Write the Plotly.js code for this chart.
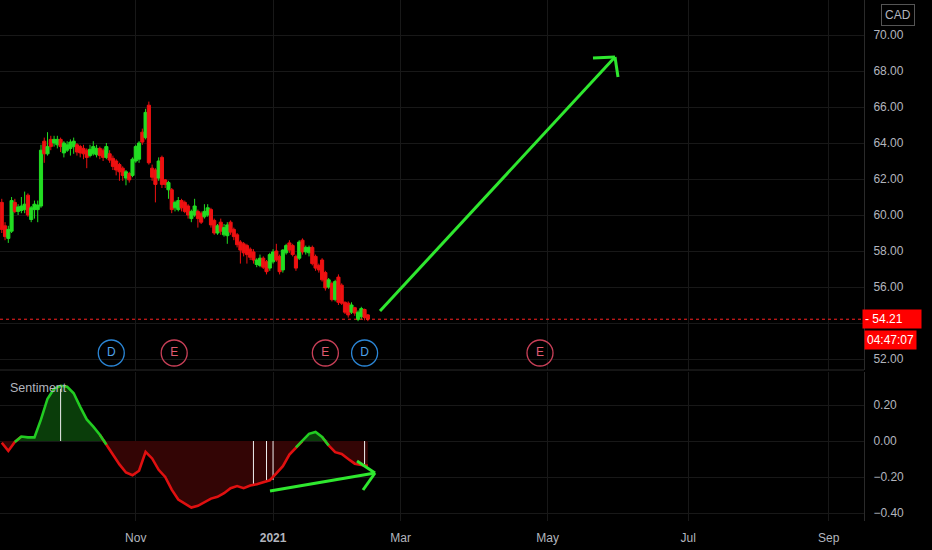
<!DOCTYPE html>
<html><head><meta charset="utf-8">
<script src="https://cdn.plot.ly/plotly-3.0.1.min.js"></script>
<style>html,body{margin:0;padding:0;background:#000;}#chart{width:932px;height:550px;}</style>
</head><body><div id="chart"></div>
<script>
// ---- data ----
const startDate = '2020-09-02';
const holidays = ['2020-09-07','2020-10-12','2020-12-25','2020-12-28','2021-01-01','2021-02-15','2021-07-01'];

const opens = [
 60.7,59.4,58.7,59.1,60.7,60.2,60.25,60.3,61.1,59.75,
 60.3,60.3,60.5,64.1,63.4,64.2,64.0,63.9,64.2,63.45,
 63.6,63.7,63.8,63.9,63.8,63.7,63.6,63.3,63.4,63.35,
 63.7,63.6,63.2,63.4,63.15,63.0,62.8,62.6,62.05,62.3,
 62.2,63.0,63.1,64.6,64.3,66.1,62.6,62.5,62.05,63.2,
 61.95,61.4,61.4,60.4,60.3,60.8,60.7,60.5,59.8,60.0,
 60.2,60.1,59.9,60.0,60.3,59.7,59.0,59.6,58.9,58.85,
 59.6,59.2,58.9,58.5,58.4,58.3,58.1,57.95,57.25,57.2,
 57.6,57.4,57.05,57.4,58.0,57.7,56.95,57.9,58.45,58.3,
 57.7,57.6,58.6,57.95,57.9,58.2,57.7,57.2,57.5,56.8,
 56.0,56.2,55.3,56.55,56.1,55.15,55.1,54.6,54.85,54.2,54.35,54.75,54.45];
const highs = [
 60.9,59.6,59.4,61.0,60.9,60.6,61.0,61.3,61.2,60.5,
 60.8,60.8,63.9,64.3,64.6,64.4,64.4,64.4,64.3,64.1,
 64.1,64.2,64.3,64.0,63.9,63.9,63.7,63.9,64.1,63.9,
 63.8,63.7,64.0,63.6,63.3,63.1,62.9,62.7,62.5,62.4,
 63.2,63.9,64.1,64.8,65.9,66.3,62.8,62.6,63.2,63.3,
 62.0,61.9,61.5,60.8,61.0,60.9,60.8,60.6,60.3,60.9,
 60.3,60.2,60.6,60.6,60.4,59.8,59.5,59.8,59.5,59.6,
 59.7,59.3,59.0,58.6,58.5,58.4,58.2,58.1,57.6,57.8,
 57.7,57.5,57.9,58.1,58.4,57.8,58.1,58.4,58.6,58.4,
 57.8,58.6,58.7,58.3,58.3,58.3,57.8,57.3,57.6,56.9,
 56.5,56.3,56.4,56.7,56.2,55.2,55.2,55.15,54.9,54.7,54.9,54.8,54.5];
const lows = [
 59.0,58.6,58.45,59.0,60.1,60.0,60.1,60.1,59.9,59.6,
 59.8,59.6,60.4,62.9,63.3,63.6,63.8,63.7,63.5,63.2,
 63.5,63.3,63.4,63.3,63.2,63.1,62.6,63.2,63.3,63.2,
 63.1,63.0,63.1,62.9,62.5,62.2,61.9,61.9,61.65,61.8,
 62.1,62.9,62.9,63.9,64.2,62.8,61.9,60.7,61.9,61.5,
 61.5,60.9,60.1,60.2,60.2,60.2,60.1,59.8,59.6,59.9,
 59.3,59.5,59.8,59.9,59.3,58.9,58.9,58.9,58.8,58.4,
 58.9,58.6,58.2,57.3,57.7,57.3,57.5,57.3,57.1,57.1,
 57.0,56.7,56.9,57.3,57.4,56.7,56.8,57.8,57.9,57.7,
 56.9,57.5,57.8,57.8,57.7,57.2,56.9,56.8,56.3,55.8,
 55.9,55.2,55.2,55.0,55.0,54.5,54.3,54.5,54.4,54.1,54.2,54.15,54.1];
const closes = [
 59.2,58.8,59.2,60.8,60.2,60.45,60.5,60.6,60.0,60.4,
 60.6,60.55,63.6,63.4,63.8,63.8,64.2,64.2,63.8,64.0,
 63.9,64.05,64.1,63.5,63.45,63.4,63.2,63.65,63.8,63.7,
 63.3,63.2,63.8,63.05,62.7,62.5,62.4,62.2,62.4,61.95,
 63.1,63.8,64.0,64.05,65.7,62.9,62.1,61.7,63.0,61.7,
 61.7,61.8,60.3,60.7,60.8,60.4,60.2,60.0,60.2,60.5,
 59.8,59.6,60.2,60.4,59.45,59.0,59.4,59.1,59.3,59.45,
 59.05,58.8,58.35,58.05,57.9,57.8,57.65,57.5,57.5,57.6,
 57.1,56.85,57.8,57.95,57.5,56.85,58.05,58.3,58.05,57.8,
 57.05,58.5,57.95,58.2,58.2,57.3,57.05,56.95,56.4,55.95,
 56.4,55.3,56.3,55.15,55.1,54.6,54.45,55.0,54.55,54.6,54.8,54.3,54.21];

// sentiment, one value every 2nd bar
const sentimentStep = 2;
const sentiment = [
 -0.01,-0.055,-0.005,0.025,0.02,0.02,0.12,0.235,0.29,0.307,
 0.302,0.265,0.19,0.12,0.08,0.035,-0.02,-0.075,-0.13,-0.175,
 -0.19,-0.165,-0.06,-0.097,-0.16,-0.2,-0.27,-0.325,-0.35,-0.37,
 -0.36,-0.34,-0.32,-0.31,-0.29,-0.262,-0.25,-0.262,-0.247,-0.24,
 -0.23,-0.218,-0.18,-0.14,-0.075,-0.035,0.0,0.04,0.05,0.022,
 -0.025,-0.062,-0.072,-0.1,-0.126,-0.133,-0.138];
const signalBars = [18,77,81,83,111];
const signalValues = [0.29,-0.244,-0.228,-0.217,-0.133];

const eventDates = ['2020-10-21 12:00','2020-11-17 18:00','2021-01-26','2021-02-11','2021-04-28 16:00'];
const eventLabels = ['D','E','E','D','E'];

const priceTicks = [52,54,56,58,60,62,64,66,68,70];
const sentTicks = [0.2,0,-0.2,-0.4];
const monthTickDates = ['2020-11-02','2021-01-04','2021-03-01','2021-05-03','2021-07-02','2021-09-01'];
const monthTickText = ['Nov','<b>2021</b>','Mar','May','Jul','Sep'];
const lastPrice = 54.21;
const countdown = '04:47:07';
const currency = 'CAD';

// ---- build ----
function tradingDays(start, n){
  const out=[]; const d=new Date(start+'T00:00:00Z');
  while(out.length<n){
    const dow=d.getUTCDay(); const s=d.toISOString().slice(0,10);
    if(dow!==0 && dow!==6 && !holidays.includes(s)) out.push(s);
    d.setUTCDate(d.getUTCDate()+1);
  }
  return out;
}
const dates = tradingDays(startDate, closes.length);
const sentDates = sentiment.map((_,k)=>dates[k*sentimentStep]);
// tick labels hidden behind the last-price tag (as in the original)
const priceTickText = priceTicks.map(v=>Math.abs(v-lastPrice)<1 ? '' : v.toFixed(2));

const GREEN='#22dd22', RED='#ee1111', TXT='#b2b5be', GRID='#181818';
const W=932, H=550, ML=0, MR=68, MT=0, MB=29;
const PW=W-ML-MR, PH=H-MT-MB;
const px = x => (x-ML)/PW;
const py = y => (PH+MT-y)/PH;
const priceDomain=[py(370),1], sentDomain=[0,py(372)];

const posY = sentiment.map(v=>Math.max(v,0));
const negY = sentiment.map(v=>Math.min(v,0));
const greenLine = sentiment.map((v,i)=>(v>=0||(sentiment[i-1]>=0)||(sentiment[i+1]>=0))?v:null);
const redLine = sentiment.map((v,i)=>(v<0||(sentiment[i-1]<0)||(sentiment[i+1]<0))?v:null);

const sigX=[], sigY=[];
signalBars.forEach((b,i)=>{sigX.push(dates[b],dates[b],null); sigY.push(0,signalValues[i],null);});

const eventLevel = 70-(353-35)/18;
const evColors = eventLabels.map(l=>l==='D'?'#2b86d6':'#c94058');
const evText = eventLabels.map(l=>l==='D'?'#4ea3ea':'#e05a72');

const traces = [
 {type:'candlestick',x:dates,open:opens,high:highs,low:lows,close:closes,xaxis:'x',yaxis:'y',
  increasing:{line:{color:GREEN,width:1},fillcolor:GREEN},
  decreasing:{line:{color:RED,width:1},fillcolor:RED},
  whiskerwidth:0,hoverinfo:'skip',showlegend:false},
 {type:'scatter',mode:'markers+text',x:eventDates,y:eventDates.map(()=>eventLevel),text:eventLabels,
  textposition:'middle center',textfont:{color:evText,size:12,family:'Liberation Sans'},
  marker:{size:26,color:'rgba(0,0,0,0)',line:{color:evColors,width:1.3}},
  xaxis:'x',yaxis:'y',showlegend:false,hoverinfo:'skip',cliponaxis:false},
 {type:'scatter',mode:'lines',x:sentDates,y:posY,fill:'tozeroy',fillcolor:'#0a3d0a',line:{width:0},
  xaxis:'x2',yaxis:'y2',showlegend:false,hoverinfo:'skip'},
 {type:'scatter',mode:'lines',x:sentDates,y:negY,fill:'tozeroy',fillcolor:'#330505',line:{width:0},
  xaxis:'x2',yaxis:'y2',showlegend:false,hoverinfo:'skip'},
 {type:'scatter',mode:'lines',x:sigX,y:sigY,line:{color:'#f0f0f0',width:1},
  xaxis:'x2',yaxis:'y2',showlegend:false,hoverinfo:'skip'},
 {type:'scatter',mode:'lines',x:sentDates,y:redLine,line:{color:'#e01010',width:2.6},connectgaps:false,
  xaxis:'x2',yaxis:'y2',showlegend:false,hoverinfo:'skip'},
 {type:'scatter',mode:'lines',x:sentDates,y:greenLine,line:{color:'#22cc22',width:2.6},connectgaps:false,
  xaxis:'x2',yaxis:'y2',showlegend:false,hoverinfo:'skip'}
];

const xRange=['2020-09-01 11:00','2021-09-15 19:00'];
const rb=[{bounds:['sat','mon']},{values:holidays}];
const arrowLine={color:'#2fe82f',width:3};
const seg=(x0,y0,x1,y1)=>({type:'line',xref:'paper',yref:'paper',x0:px(x0),y0:py(y0),x1:px(x1),y1:py(y1),line:arrowLine});

const layout = {
 width:W,height:H,margin:{l:ML,r:MR,t:MT,b:MB},
 paper_bgcolor:'#000',plot_bgcolor:'#000',
 font:{family:'Liberation Sans, DejaVu Sans, sans-serif',color:TXT,size:12},
 showlegend:false, boxgap:0.05, boxgroupgap:0,
 xaxis:{domain:[0,1],anchor:'y',range:xRange,rangebreaks:rb,showticklabels:false,
  tickvals:monthTickDates,showgrid:true,gridcolor:GRID,zeroline:false,rangeslider:{visible:false},fixedrange:true},
 xaxis2:{domain:[0,1],anchor:'y2',matches:'x',range:xRange,rangebreaks:rb,tickvals:monthTickDates,ticktext:monthTickText,
  showgrid:true,gridcolor:GRID,zeroline:false,ticks:'outside',ticklen:6,tickcolor:'rgba(0,0,0,0)',tickfont:{color:TXT,size:12}},
 yaxis:{domain:priceDomain,side:'right',range:[70-(370-35)/18,70+35/18],tickvals:priceTicks,ticktext:priceTickText,
  showgrid:true,gridcolor:GRID,zeroline:false,showline:true,linecolor:'#2a2a2a',ticks:'outside',ticklen:6,tickcolor:'rgba(0,0,0,0)',
  tickfont:{color:TXT,size:12}},
 yaxis2:{domain:sentDomain,side:'right',range:[(441-521)/180,(441-372)/180],tickvals:sentTicks,tickformat:'.2f',
  showgrid:true,gridcolor:GRID,zeroline:false,showline:true,linecolor:'#2a2a2a',ticks:'outside',ticklen:6,tickcolor:'rgba(0,0,0,0)',
  tickfont:{color:TXT,size:12}},
 shapes:[
  {type:'line',xref:'paper',yref:'paper',x0:0,x1:1,y0:py(370),y1:py(370),line:{color:'#2a2a2a',width:1}},
  {type:'line',xref:'paper',yref:'y',x0:0,x1:1,y0:lastPrice,y1:lastPrice,line:{color:'#ff2020',width:1,dash:'dot'}},
  seg(380,311,615,57), seg(593,58,615,57), seg(615,57,618,77),
  seg(270,491,375,473), seg(357,461,375,473), seg(375,473,363,490)
 ],
 annotations:[
  {xref:'paper',yref:'paper',x:px(8),y:py(388),xanchor:'left',yanchor:'middle',text:'Sentiment',showarrow:false,
   font:{color:TXT,size:12.5}},
  {xref:'paper',yref:'paper',x:px(897.5),y:py(15),xanchor:'center',yanchor:'middle',text:currency,showarrow:false,
   font:{color:TXT,size:12},bordercolor:'#555',borderwidth:1,borderpad:3},
  {xref:'paper',yref:'y',x:px(862),y:lastPrice,xanchor:'left',yanchor:'middle',text:'- '+lastPrice.toFixed(2),showarrow:false,
   font:{color:'#fff',size:12},bgcolor:'#ff0000',width:54,align:'left',borderpad:2},
  {xref:'paper',yref:'paper',x:px(864),y:py(340),xanchor:'left',yanchor:'middle',text:countdown,showarrow:false,
   font:{color:'#fff',size:12},bgcolor:'#ff0000',borderpad:2}
 ]
};
Plotly.newPlot('chart',traces,layout,{displayModeBar:false,staticPlot:true});
</script></body></html>
